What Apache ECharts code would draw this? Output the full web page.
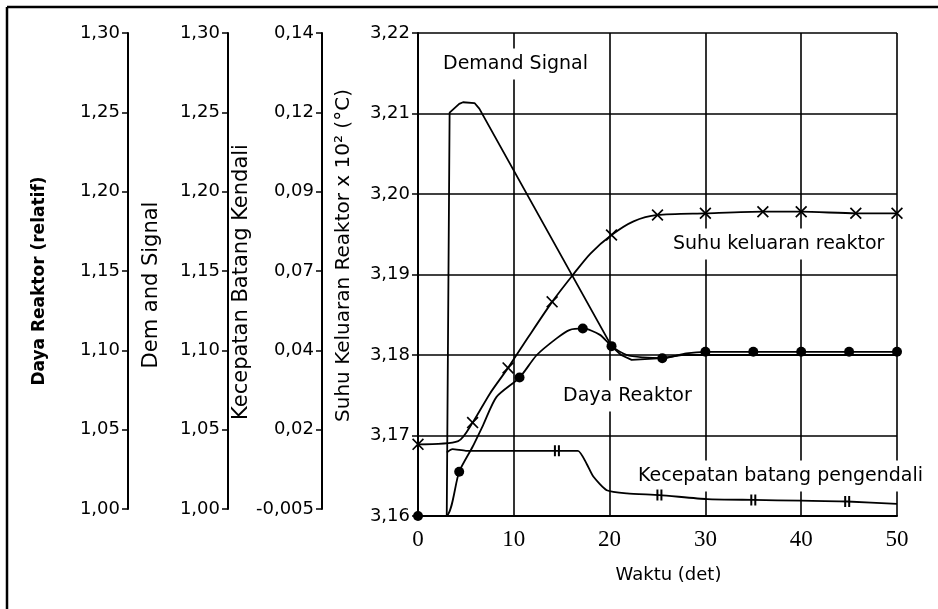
<!DOCTYPE html>
<html>
<head>
<meta charset="utf-8">
<script src="https://cdn.jsdelivr.net/npm/echarts@6/dist/echarts.min.js"></script>
<style>
html, body { margin: 0; padding: 0; background: #fff; }
#chart { width: 938px; height: 609px; }
</style>
</head>
<body>
<div id="chart"></div>
<script>
// waktu (det) on x, suhu keluaran in degC (axis shows x 10^2)
const waktuTicks = [0, 10, 20, 30, 40, 50]

const demandT = [3.0, 3.3, 4.3, 4.7, 5.9, 6.4, 20.2, 21.2, 22.3, 25.5, 27.5, 50]
const demandV = [316.00, 321.01, 321.12, 321.14, 321.13, 321.06, 318.11, 318.00, 317.94, 317.96, 318.00, 318.00]

const suhuT = [0, 4.2, 5.7, 7.5, 9.4, 11.5, 14.0, 16.2, 18.0, 20.2, 22.5, 25.0, 30.0, 36.0, 40.0, 45.7, 50]
const suhuV = [316.89, 316.93, 317.16, 317.52, 317.84, 318.22, 318.66, 319.00, 319.26, 319.49, 319.66, 319.74, 319.76, 319.78, 319.78, 319.76, 319.76]
const suhuMarks = [0, 2, 4, 6, 9, 11, 12, 13, 14, 15, 16]

const dayaT = [0, 2.9, 4.3, 5.7, 6.8, 8.2, 10.6, 12.4, 14.5, 15.8, 17.2, 19.0, 20.2, 21.8, 23.5, 25.5, 28.0, 30, 35, 40, 45, 50]
const dayaV = [316.00, 316.00, 316.55, 316.86, 317.13, 317.48, 317.72, 318.00, 318.21, 318.31, 318.33, 318.25, 318.11, 318.00, 317.97, 317.96, 318.02, 318.04, 318.04, 318.04, 318.04, 318.04]
const dayaMarks = [0, 2, 6, 10, 12, 15, 17, 18, 19, 20, 21]

const kecT = [3.0, 3.6, 5.0, 14.5, 16.7, 17.6, 18.3, 19.7, 21.8, 25.2, 30.2, 35.0, 40.0, 44.8, 50]
const kecV = [316.79, 316.83, 316.81, 316.81, 316.81, 316.65, 316.49, 316.32, 316.28, 316.26, 316.21, 316.20, 316.19, 316.18, 316.15]
const kecMarks = [3, 9, 11, 13]

// left axes tick labels
const kecLabels = ['-0,005', '0,02', '0,04', '0,07', '0,09', '0,12', '0,14']

const crossSym = 'path://M0,1L1,0L5,4L9,0L10,1L6,5L10,9L9,10L5,6L1,10L0,9L4,5Z'
const rodSym = 'path://M0,0H2V10H0ZM4,0H6V10H4Z'

function pts(ts, vs, marks) {
    return ts.map((t, i) => {
        const item = { value: [t, vs[i]] }
        if (marks && marks.indexOf(i) < 0) item.symbol = 'none'
        return item
    })
}

const comma2 = v => v.toFixed(2).replace('.', ',')
const black = '#000'
const font = 'DejaVu Sans'

function leftAxis(gridIndex, min, max, interval, fmt, name, nameGap, nameStyle) {
    return {
        gridIndex: gridIndex,
        type: 'value',
        min: min,
        max: max,
        interval: interval,
        position: 'left',
        axisLine: { show: true, lineStyle: { color: black, width: 2 } },
        axisTick: { show: true, length: 6, lineStyle: { color: black, width: 1.5 } },
        axisLabel: { color: black, fontFamily: font, fontSize: 18, margin: 8, formatter: fmt },
        splitLine: { show: false },
        name: name,
        nameLocation: 'middle',
        nameRotate: 90,
        nameGap: nameGap,
        nameTextStyle: Object.assign({ color: black, fontFamily: font, fontSize: 21 }, nameStyle || {})
    }
}

const chart = echarts.init(document.getElementById('chart'))
const lineBase = {
    type: 'line',
    xAxisIndex: 0,
    yAxisIndex: 0,
    showAllSymbol: true,
    lineStyle: { color: black, width: 1.8 },
    itemStyle: { color: black },
    emphasis: { disabled: true },
    z: 3
}

const option = {
    animation: false,
    backgroundColor: '#fff',
    grid: [
        { left: 418, top: 33, width: 479, height: 483, outerBoundsMode: 'none' },
        { left: 128, top: 33, width: 1, height: 476, outerBoundsMode: 'none' },
        { left: 228, top: 33, width: 1, height: 476, outerBoundsMode: 'none' },
        { left: 322, top: 33, width: 1, height: 476, outerBoundsMode: 'none' }
    ],
    xAxis: [
        {
            gridIndex: 0,
            type: 'value',
            min: waktuTicks[0],
            max: waktuTicks[waktuTicks.length - 1],
            interval: 10,
            axisLine: { show: true, lineStyle: { color: black, width: 2 } },
            axisTick: { show: false },
            axisLabel: { color: black, fontFamily: 'Liberation Serif', fontSize: 23, margin: 12 },
            splitLine: { show: true, lineStyle: { color: black, width: 1.6 } },
            name: 'Waktu (det)',
            nameLocation: 'middle',
            nameGap: 50,
            nameTextStyle: { color: black, fontFamily: font, fontSize: 18, padding: [0, 0, 0, 22] }
        },
        { gridIndex: 1, show: false, min: 0, max: 1 },
        { gridIndex: 2, show: false, min: 0, max: 1 },
        { gridIndex: 3, show: false, min: 0, max: 1 }
    ],
    yAxis: [
        {
            gridIndex: 0,
            type: 'value',
            min: 316,
            max: 322,
            interval: 1,
            axisLine: { show: true, lineStyle: { color: black, width: 2 } },
            axisTick: { show: true, length: 6, lineStyle: { color: black, width: 1.5 } },
            axisLabel: { color: black, fontFamily: font, fontSize: 18, margin: 8, formatter: v => comma2(v / 100) },
            splitLine: { show: true, lineStyle: { color: black, width: 1.6 } },
            name: 'Suhu Keluaran Reaktor x 10² (°C)',
            nameLocation: 'middle',
            nameRotate: 90,
            nameGap: 64,
            nameTextStyle: { color: black, fontFamily: font, fontSize: 20, padding: [0, 0, 0, 38] }
        },
        leftAxis(1, 1.0, 1.3, 0.05, comma2, 'Daya Reaktor (relatif)', 80, { fontSize: 17, fontWeight: 'bold', padding: [0, 20, 0, 0] }),
        leftAxis(2, 1.0, 1.3, 0.05, comma2, 'Dem and Signal', 66, { padding: [0, 28, 0, 0] }),
        leftAxis(3, 0, 6, 1, v => kecLabels[Math.round(v)], 'Kecepatan Batang Kendali', 60, { padding: [0, 22, 0, 0] })
    ],
    series: [
        Object.assign({}, lineBase, {
            name: 'Demand Signal',
            data: pts(demandT, demandV, null),
            symbol: 'none',
            smooth: false
        }),
        Object.assign({}, lineBase, {
            name: 'Suhu keluaran reaktor',
            data: pts(suhuT, suhuV, suhuMarks),
            symbol: crossSym,
            symbolSize: 12,
            smooth: 0.25
        }),
        Object.assign({}, lineBase, {
            name: 'Daya Reaktor',
            data: pts(dayaT, dayaV, dayaMarks),
            symbol: 'circle',
            symbolSize: 10,
            smooth: 0.25
        }),
        Object.assign({}, lineBase, {
            name: 'Kecepatan batang pengendali',
            data: pts(kecT, kecV, kecMarks),
            symbol: rodSym,
            symbolSize: [6, 11],
            smooth: 0.2
        })
    ],
    graphic: [
        { type: 'line', z: 5, shape: { x1: 7, y1: 7, x2: 938, y2: 7 }, style: { stroke: black, lineWidth: 2.5 } },
        { type: 'line', z: 5, shape: { x1: 7, y1: 7, x2: 7, y2: 609 }, style: { stroke: black, lineWidth: 2.5 } },
        { type: 'text', z: 1, x: 439, y: 64, style: { text: 'Demand Signal', font: '19px "DejaVu Sans"', fill: black, verticalAlign: 'middle', backgroundColor: '#fff', padding: [6, 4] } },
        { type: 'text', z: 1, x: 669, y: 244, style: { text: 'Suhu keluaran reaktor', font: '19px "DejaVu Sans"', fill: black, verticalAlign: 'middle', backgroundColor: '#fff', padding: [6, 4] } },
        { type: 'text', z: 1, x: 559, y: 396, style: { text: 'Daya Reaktor', font: '19px "DejaVu Sans"', fill: black, verticalAlign: 'middle', backgroundColor: '#fff', padding: [6, 4] } },
        { type: 'text', z: 1, x: 634, y: 476, style: { text: 'Kecepatan batang pengendali', font: '19px "DejaVu Sans"', fill: black, verticalAlign: 'middle', backgroundColor: '#fff', padding: [6, 4] } }
    ]
}

chart.setOption(option)
window.addEventListener('resize', function() {
    chart.resize()
})
</script>
</body>
</html>
